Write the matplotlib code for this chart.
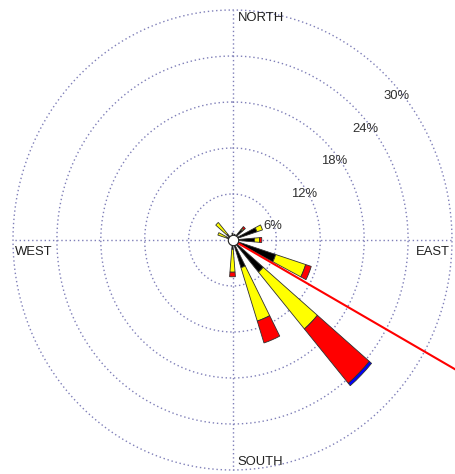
import numpy as np
import matplotlib
matplotlib.use("Agg")
import matplotlib.pyplot as plt

# Wind rose: frequency (%) by direction, stacked by speed class
directions = ['N', 'NNE', 'NE', 'ENE', 'E', 'ESE', 'SE', 'SSE',
              'S', 'SSW', 'SW', 'WSW', 'W', 'WNW', 'NW', 'NNW']
speed_1 = [0.9, 0.8, 1.8, 3.5, 3.0, 6.2, 5.5, 3.8, 1.2, 0.0, 0.0, 0.0, 0.0, 0.8, 1.0, 0.0]
speed_2 = [0.0, 0.0, 0.2, 0.8, 0.7, 4.3, 9.7, 7.3, 3.0, 0.0, 0.0, 0.0, 0.0, 1.3, 2.0, 0.0]
speed_3 = [0.0, 0.0, 0.3, 0.0, 0.3, 0.8, 9.3, 3.0, 0.6, 0.0, 0.0, 0.0, 0.0, 0.0, 0.0, 0.0]
speed_4 = [0.0, 0.0, 0.0, 0.0, 0.0, 0.0, 0.4, 0.0, 0.0, 0.0, 0.0, 0.0, 0.0, 0.0, 0.0, 0.0]
speed_colors = ['black', '#ffff00', '#ff0000', '#0000ff']

ring_values = [6, 12, 18, 24, 30]
ring_labels = ['6%', '12%', '18%', '24%', '30%']
mean_direction = 119.0
compass_labels = ['NORTH', 'EAST', 'SOUTH', 'WEST']

plt.rcParams['font.family'] = ['Liberation Sans', 'DejaVu Sans']

fig = plt.figure(figsize=(4.55, 4.74), dpi=100)
ax = fig.add_axes([13 / 455, 4 / 474, 439 / 455, 460 / 474], projection='polar')
ax.set_theta_zero_location('N')
ax.set_theta_direction(-1)
ax.set_aspect('auto')
ax.set_ylim(0, ring_values[-1])
ax.axis('off')

grid_kw = dict(color='#7f7fb8', lw=1.0, ls=(0, (1, 2)), clip_on=False, zorder=1)
t = np.linspace(0, 2 * np.pi, 721)
for r in ring_values:
    ax.plot(t, np.full_like(t, r), **grid_kw)
for a in (0, 90, 180, 270):
    ax.plot([np.deg2rad(a)] * 2, [0, ring_values[-1]], **grid_kw)

theta = np.deg2rad(np.arange(len(directions)) * 22.5)
width = np.deg2rad(9.5)
bottom = np.zeros(len(directions))
for vals, col in zip([speed_1, speed_2, speed_3, speed_4], speed_colors):
    vals = np.asarray(vals)
    mask = vals > 0
    ax.bar(theta[mask], vals[mask], width=width, bottom=bottom[mask],
           color=col, edgecolor='#303030', linewidth=0.6, zorder=3)
    bottom += vals

# mean direction line
ax.plot([np.deg2rad(mean_direction)] * 2, [0, 60], color='red', lw=1.5,
        clip_on=False, zorder=4)

# calm circle
ax.plot([0], [0], 'o', ms=7.5, mfc='white', mec='#202020', mew=0.8, zorder=5)

# ring labels along the north-east diagonal
for r, lab in zip(ring_values, ring_labels):
    ax.annotate(lab, xy=(np.deg2rad(45), r), xytext=(9, -19),
                textcoords='offset pixels', ha='center', va='center',
                fontsize=9.4, color='#303030', zorder=6)

# compass labels
txt_kw = dict(fontsize=9.4, color='#202020', zorder=6)
ax.annotate(compass_labels[0], xy=(0, ring_values[-1]), xytext=(5, -8),
            textcoords='offset pixels', ha='left', va='center', **txt_kw)
ax.annotate(compass_labels[1], xy=(np.pi / 2, ring_values[-1]), xytext=(-2, -12),
            textcoords='offset pixels', ha='right', va='center', **txt_kw)
ax.annotate(compass_labels[2], xy=(np.pi, ring_values[-1]), xytext=(5, 8),
            textcoords='offset pixels', ha='left', va='center', **txt_kw)
ax.annotate(compass_labels[3], xy=(3 * np.pi / 2, ring_values[-1]), xytext=(2, -12),
            textcoords='offset pixels', ha='left', va='center', **txt_kw)

fig.savefig('out.png', dpi=100, facecolor='white')
